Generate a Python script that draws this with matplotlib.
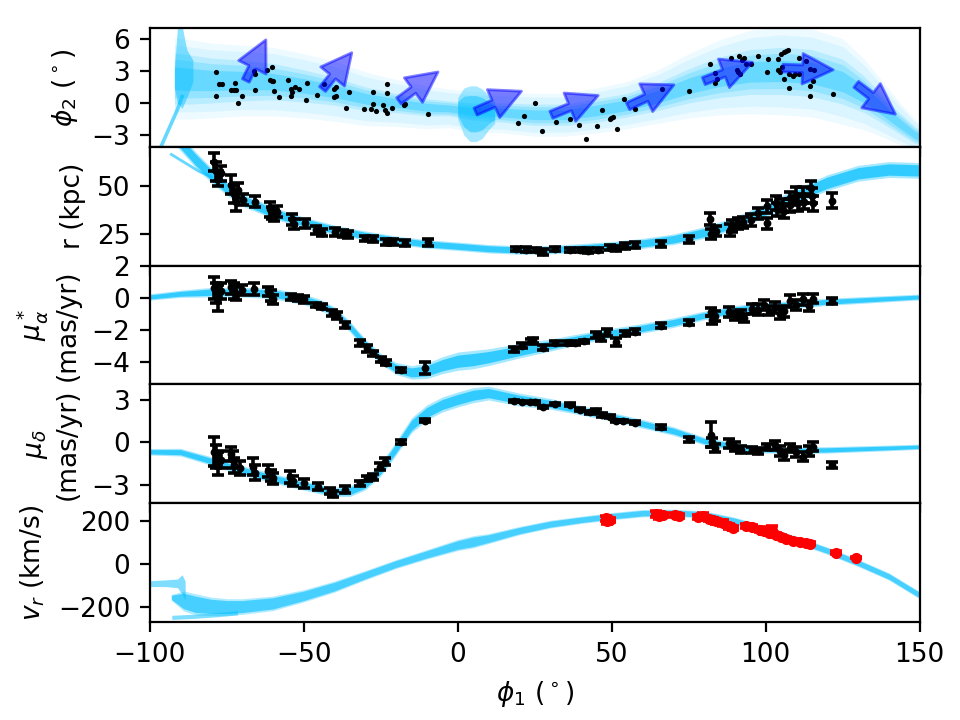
import numpy as np
import matplotlib
matplotlib.use('Agg')
import matplotlib.pyplot as plt

# ---- stream model tracks (phi1 nodes, centre, half-widths) ----
# phi2 panel, main track
trk1_phi1 = [-92, -87, -80, -70, -60, -50, -40, -30, -20, -10, -3, 5, 15, 25, 35, 45, 55,
             65, 75, 85, 95, 105, 115, 125, 132, 138, 143, 148, 150]
trk1_mid = [2.3, 2.2, 2.1, 2.1, 2.0, 1.6, 1.1, 0.4, 0.0, -0.4, -0.5, -0.8, -0.9, -1.1, -1.1,
            -0.7, -0.2, 0.6, 1.6, 2.4, 2.9, 3.0, 2.8, 2.0, 0.8, -0.6, -1.8, -2.9, -3.2]
trk1_core = [2.4, 2.3, 2.1, 1.9, 1.7, 1.5, 1.3, 1.1, 0.9, 0.8, 0.7, 0.8, 0.9, 1.0, 1.0,
             1.1, 1.1, 1.3, 1.6, 1.9, 2.1, 2.2, 2.2, 2.1, 1.7, 1.3, 1.0, 0.8, 0.7]
trk1_halo = [3.8, 3.7, 3.5, 3.3, 3.2, 3.0, 2.8, 2.5, 2.2, 2.0, 1.8, 1.9, 1.9, 2.0, 2.0,
             2.1, 2.2, 2.5, 3.0, 3.5, 3.9, 4.1, 4.1, 4.0, 3.3, 2.6, 2.0, 1.5, 1.3]
# progenitor blob
blob_phi1 = [0, 2, 4, 6, 8, 10, 12]
blob_mid = [-0.5, -0.8, -1.0, -1.0, -1.0, -0.9, -0.9]
blob_hw = [1.0, 2.2, 2.6, 2.6, 2.3, 1.6, 1.0]
# spike and thin tail at the leading end
spike_phi1 = [-92, -91, -89.5, -88, -86]
spike_lo = [1.5, 0.0, -0.5, 0.5, 2.0]
spike_hi = [3.0, 7.2, 7.2, 5.0, 4.0]
tail_phi1 = [-97, -95, -93, -91, -89.5]
tail_phi2 = [-4.5, -3.2, -1.9, -0.6, 0.6]

# distance track
trk2_phi1 = [-91, -85, -80, -75, -70, -60, -50, -40, -30, -20, -10, 0, 10, 20, 30, 40,
             50, 60, 70, 80, 90, 100, 110, 120, 130, 140, 150]
trk2_mid = [75, 64, 56, 49, 43, 36, 31, 27, 24, 21.5, 19.5, 18.3, 17, 16.3, 16.5, 17.3,
            18.3, 19.8, 22, 25.5, 30.5, 37.5, 45, 52, 57, 59, 58.5]
trk2_hw = [3, 3, 2.8, 2.6, 2.4, 2.2, 2, 1.8, 1.7, 1.6, 1.6, 1.6, 1.6, 1.6, 1.6, 1.7,
           1.8, 1.9, 2, 2.2, 2.4, 2.6, 2.8, 3, 3, 3, 3]
br2_phi1 = [-93, -88, -84, -80]
br2_r = [67, 62, 58, 55]

# proper motion tracks
pm_phi1 = [-100, -90, -80, -70, -60, -50, -45, -40, -35, -30, -25, -20, -15, -10, -5, 0,
           5, 10, 20, 30, 40, 50, 60, 70, 80, 90, 100, 110, 120, 130, 140, 150]
trk3_mid = [0.05, 0.25, 0.35, 0.35, 0.27, -0.1, -0.4, -0.9, -1.8, -2.9, -3.8, -4.4, -4.65,
            -4.55, -4.2, -3.95, -3.85, -3.7, -3.3, -2.95, -2.55, -2.2, -1.9, -1.55, -1.1,
            -0.75, -0.55, -0.4, -0.25, -0.15, -0.05, 0.05]
trk3_hw = [0.13, 0.15, 0.2, 0.2, 0.22, 0.22, 0.22, 0.22, 0.22, 0.22, 0.22, 0.25, 0.28, 0.32,
           0.35, 0.38, 0.38, 0.35, 0.3, 0.25, 0.22, 0.2, 0.2, 0.2, 0.18, 0.18, 0.18, 0.16,
           0.15, 0.14, 0.13, 0.12]
trk4_mid = [-0.65, -0.68, -1.3, -1.95, -2.5, -3.0, -3.25, -3.45, -3.4, -2.9, -1.9, -0.4,
            1.2, 2.1, 2.65, 3.0, 3.3, 3.45, 3.0, 2.7, 2.25, 1.8, 1.3, 0.8, 0.1, -0.3, -0.5,
            -0.55, -0.52, -0.45, -0.38, -0.3]
trk4_hw = [0.15, 0.18, 0.2, 0.22, 0.22, 0.22, 0.22, 0.22, 0.25, 0.28, 0.3, 0.32, 0.35, 0.35,
           0.35, 0.35, 0.35, 0.32, 0.3, 0.25, 0.22, 0.2, 0.2, 0.2, 0.18, 0.18, 0.16, 0.15,
           0.15, 0.14, 0.13, 0.12]

# radial velocity track
trk5_phi1 = [-93, -89, -85, -80, -75, -70, -60, -50, -40, -30, -20, -10, 0, 5, 10, 20, 30,
             40, 50, 60, 70, 80, 90, 100, 110, 120, 130, 140, 150]
trk5_mid = [-155, -172, -188, -197, -200, -198, -183, -148, -105, -52, 0, 45, 88, 103, 118,
            155, 185, 205, 222, 236, 238, 230, 200, 160, 112, 62, 5, -58, -145]
trk5_hw = [10, 36, 38, 33, 30, 28, 26, 22, 20, 17, 16, 17, 20, 22, 18, 15, 14, 13, 13, 13,
           13, 13, 13, 13, 13, 13, 13, 13, 13]
hook_phi1 = [-100, -95, -91, -89.5, -88.5]
hook_lo = [-105, -105, -110, -140, -170]
hook_hi = [-78, -74, -70, -50, -80]
br5_phi1 = [-92, -85, -78, -72]
br5_vr = [-250, -245, -238, -230]

# ---- observed members ----
dot_phi1 = [-78.6, -77.6, -76.5, -78.6, -72.4, -73.5, -72.6, -71.9, -71.4, -69.9, -66.1, -65.9,
            -65.8, -62.0, -60.2, -61.0, -60.4, -60.0, -59.7, -58.1, -55.2, -54.0, -53.7, -54.0,
            -52.7, -51.5, -49.1, -49.2, -45.8, -43.4, -40.3, -39.6, -40.2, -39.6, -36.4, -35.3,
            -30.3, -28.2, -27.5, -27.5, -26.6, -24.2, -23.7, -22.9, -23.0, -22.9, -21.5, -17.5,
            -17.0, -9.5, 19.6, 21.5, 25.0, 27.5, 31.8, 36.4, 39.3, 41.6, 45.2, 46.8, 49.4,
            49.9, 50.4, 51.7, 54.0, 57.4, 66.2, 75.0, 81.9, 83.4, 84.3, 83.6, 88.7, 91.3, 92.3,
            92.8, 90.7, 91.1, 91.6, 93.7, 95.2, 97.4, 100.3, 100.9, 104.0, 105.1, 105.8, 106.7,
            107.4, 104.0, 104.5, 105.3, 105.8, 107.6, 108.9, 109.6, 110.8, 110.7, 107.6, 113.0,
            114.3, 115.6, 115.4, 114.5, 114.5, 121.7]
dot_phi2 = [2.88, 1.74, 1.8, 0.69, 1.86, 1.25, 1.25, 1.18, 0.03, 0.62, 2.98, 2.73,
            1.25, 3.04, 3.41, 2.11, 2.08, 2.02, 1.12, 0.56, 2.11, 1.27, 1.02, 0.69,
            1.49, 1.27, 1.86, 0.25, 0.72, 1.8, 1.34, 1.49, 0.56, 0.62, -0.43, 1.02,
            -0.52, -0.52, 1.02, -0.06, -0.74, -0.21, -0.62, -0.93, 1.74, 0.97, -0.43, -0.21,
            -0.09, -1.02, -1.89, -1.17, -0.03, -2.6, -1.77, -1.49, -2.01, -3.38, -2.17, -0.68,
            -1.49, -1.36, -1.27, -2.45, 0.34, -0.56, 1.27, 1.09, 3.63, 2.79, 2.2, 1.9, 4.25,
            4.37, 4.04, 4.19, 3.04, 2.88, 2.73, 3.67, 3.67, 4.41, 2.92, 4.07, 4.13, 4.6, 4.72,
            4.84, 4.97, 3.04, 2.88, 3.39, 2.23, 2.67, 2.48, 2.73, 2.73, 4.22, 1.4, 3.97, 3.2,
            3.04, 2.02, 1.58, 0.62, 0.87]

# proper-motion direction arrows (tail -> head)
arr_tail = [(-68.8, 2.1), (-43.9, 1.3), (-19.1, 0.2), (5.8, -0.8), (30.4, -1.1),
            (55.3, -0.3), (79.9, 2.05), (105.6, 3.26), (129.4, 1.74)]
arr_head = [(-62.3, 5.9), (-34.4, 4.7), (-6.4, 2.9), (20.7, 1.1), (45.6, 0.7),
            (70.2, 1.7), (95.7, 3.8), (121.9, 3.1), (142.1, -1.05)]

r_phi1 = [-79.0, -78.5, -78.0, -77.0, -73.5, -72.5, -72.0, -71.5, -69.7, -65.9, -60.8, -60.2,
          -59.8, -58.8, -53.8, -53.2, -49.7, -45.9, -44.2, -39.9, -37.3, -35.7, -30.2, -27.5,
          -23.2, -21.0, -17.2, -9.6, 19.0, 22.2, 25.5, 27.7, 31.5, 36.4, 39.6, 42.3, 45.6,
          49.4, 51.5, 54.2, 57.5, 66.1, 75.1, 82.4, 82.0, 84.0, 88.3, 89.0, 91.1, 92.6, 95.3,
          97.5, 100.4, 100.4, 103.4, 103.8, 105.6, 106.0, 107.8, 108.0, 110.0, 110.5, 112.1,
          112.5, 114.8, 115.0, 115.5, 121.5]
r_val = [63, 58, 54, 57, 51, 46, 42, 48, 43, 42, 38, 36, 34.5, 36.7, 32.5, 30, 30.5, 27, 25.5,
         26, 25, 24.7, 22.5, 22.2, 20.7, 20.5, 19.9, 20.4, 16.9, 16.5, 16.2, 15.4, 16.9, 16.3,
         16.3, 16.0, 16.3, 17.6, 17.2, 18.5, 19, 19.4, 22, 24.7, 32.8, 26.4, 27, 29, 30.5, 31,
         32.3, 35.8, 39.4, 30.5, 41.2, 38, 40, 37, 43.8, 40, 45.6, 41, 45.5, 42, 49.1, 45, 41,
         42.4]
r_err = [5, 5, 4, 4, 5, 5, 5, 4, 3, 3, 4, 3, 3, 3, 3, 2.5, 2.5, 2, 2, 2, 2, 1.8, 1.5, 1.5,
         1.5, 1.5, 1.5, 2, 1.2, 1.2, 1.2, 1.5, 1.2, 1.2, 1.2, 1.2, 1.2, 1.5, 1.5, 1.5, 1.5,
         1.5, 2, 2.5, 3, 2.5, 3, 3, 3, 3, 3, 3, 3.5, 3, 3.5, 3.5, 3.5, 3.5, 3.5, 3.5, 4, 4, 4,
         4, 4, 4, 4, 4]

pma_phi1 = [-79, -78.5, -78.0, -77, -73.5, -72.5, -72, -70, -66, -61.5, -60.5, -60, -54, -52,
            -49.8, -46, -44, -40.9, -39.3, -36.6, -31.8, -29.6, -27.5, -24.8, -23.2, -18.3,
            -10.5, 18.4, 21.0, 23.8, 24.5, 27.7, 31.5, 35.5, 38, 41, 45, 46.5, 48.4, 51.5,
            54.2, 57.5, 66.1, 75.1, 82.4, 82.6, 83.5, 88, 90, 92, 93, 95.5, 97.5, 99.5, 101,
            103, 104.5, 106, 108, 110, 112, 114, 115.5, 121.5]
pma_val = [0.6, 0.3, 0.0, 0.45, 0.65, 0.4, 0.25, 0.5, 0.55, 0.4, 0.15, -0.1, 0.05, 0.0, -0.1,
           -0.45, -0.56, -0.95, -1.1, -1.7, -2.8, -3.15, -3.45, -3.85, -4.05, -4.5, -4.37,
           -3.2, -2.98, -2.7, -2.65, -3.1, -2.82, -2.82, -2.8, -2.72, -2.3, -2.5, -2.15,
           -2.75, -2.2, -2.1, -1.75, -1.55, -0.86, -1.38, -1.15, -0.9, -1.1, -1.0, -1.25,
           -0.7, -0.75, -0.45, -0.8, -0.6, -1.0, -0.85, -0.2, -0.45, -0.1, -0.5, -0.05, -0.2]
pma_err = [0.7, 0.6, 0.8, 0.5, 0.4, 0.5, 0.4, 0.3, 0.35, 0.3, 0.35, 0.3, 0.2, 0.2, 0.2, 0.15,
           0.15, 0.2, 0.2, 0.2, 0.2, 0.2, 0.15, 0.15, 0.15, 0.1, 0.35, 0.15, 0.15, 0.15, 0.15,
           0.15, 0.12, 0.12, 0.12, 0.12, 0.2, 0.2, 0.2, 0.25, 0.15, 0.15, 0.15, 0.15, 0.25,
           0.25, 0.3, 0.3, 0.3, 0.25, 0.25, 0.3, 0.35, 0.3, 0.3, 0.35, 0.3, 0.35, 0.35, 0.3,
           0.35, 0.3, 0.3, 0.2]

pmd_phi1 = [-79, -78.5, -78, -77, -73.5, -73, -72.5, -70.8, -66.5, -65.8, -61.5, -60.5, -60,
            -54.5, -53.5, -49.8, -45.5, -41.5, -40.5, -36.6, -31.8, -29.6, -27.5, -25.3, -23.7,
            -18.3, -10.5, 18.4, 21, 23.5, 25, 27.7, 31.5, 36.4, 39.6, 42.8, 45, 47, 49.4, 51.5,
            53.7, 57.5, 66.1, 75.1, 82.4, 82.6, 83.5, 88, 90, 92, 95.5, 97.5, 100.5, 103,
            104.5, 106, 108, 110, 112, 114, 115.5, 121.5]
pmd_val = [-0.65, -1.0, -1.5, -1.2, -0.8, -1.2, -1.6, -1.8, -1.7, -2.1, -2.0, -2.3, -2.5, -2.4,
           -2.7, -2.86, -3.1, -3.4, -3.6, -3.3, -2.86, -2.51, -2.4, -1.7, -1.35, 0.04, 1.51,
           2.9, 2.85, 2.8, 2.83, 2.48, 2.7, 2.65, 2.3, 2.1, 2.2, 1.9, 1.8, 1.5, 1.5, 1.37,
           1.09, 0.21, 0.55, 0.0, -0.4, -0.07, -0.3, -0.5, -0.55, -0.6, -0.3, -0.2, -0.6,
           -0.9, -0.4, -0.7, -1.0, -0.6, -0.3, -1.58]
pmd_err = [1.0, 0.8, 0.8, 0.6, 0.5, 0.6, 0.5, 0.5, 0.6, 0.5, 0.4, 0.4, 0.4, 0.4, 0.35, 0.3,
           0.25, 0.2, 0.2, 0.25, 0.2, 0.2, 0.2, 0.25, 0.25, 0.15, 0.1, 0.05, 0.05, 0.05, 0.05,
           0.05, 0.05, 0.08, 0.08, 0.08, 0.15, 0.15, 0.1, 0.1, 0.1, 0.1, 0.15, 0.15, 0.9, 0.3,
           0.3, 0.3, 0.3, 0.25, 0.2, 0.2, 0.2, 0.3, 0.35, 0.35, 0.3, 0.35, 0.3, 0.35, 0.3, 0.2]

vr_phi1 = [48, 48.5, 49.5, 64.5, 65.5, 66.5, 70.5, 72, 78, 79.5, 81.5, 83, 84, 86, 88, 89.5,
           93.7, 95.5, 98, 99.5, 101, 102, 103.5, 105, 106.6, 109, 111, 113, 114.5, 122.9, 129.4]
vr_val = [212, 200, 205, 232, 222, 228, 228, 222, 218, 225, 210, 205, 198, 190, 175, 168, 178,
          172, 160, 152, 145, 160, 135, 125, 118, 108, 100, 98, 95, 53, 29]
vr_err = [12, 15, 10, 12, 15, 10, 8, 8, 8, 10, 10, 8, 10, 12, 12, 10, 10, 10, 12, 15, 12, 15,
          10, 8, 8, 8, 8, 8, 8, 5, 3]

SKY = '#00BFFF'
plt.rcParams['font.size'] = 9.5

fig, axes = plt.subplots(5, 1, sharex=True, figsize=(4.8, 3.6), dpi=200)
fig.subplots_adjust(left=0.156, right=0.958, top=0.961, bottom=0.136, hspace=0)
ax1, ax2, ax3, ax4, ax5 = axes


def band(ax, x, mid, hw, alpha, scale=1.0):
    mid = np.asarray(mid, float)
    hw = np.asarray(hw, float) * scale
    ax.fill_between(x, mid - hw, mid + hw, color=SKY, alpha=alpha, lw=0, zorder=1)


eb = dict(fmt='o', ms=1.8, capsize=2.2, elinewidth=1.3, capthick=1.3, zorder=3)

# phi2: stacked translucent layers give a soft-edged cloud
band(ax1, trk1_phi1, trk1_mid, trk1_halo, 0.07)
band(ax1, trk1_phi1, trk1_mid, trk1_halo, 0.08, 0.82)
band(ax1, trk1_phi1, trk1_mid, trk1_core, 0.15)
band(ax1, trk1_phi1, trk1_mid, trk1_core, 0.2, 0.75)
band(ax1, trk1_phi1, trk1_mid, trk1_core, 0.3, 0.45)
band(ax1, blob_phi1, blob_mid, blob_hw, 0.35)
band(ax1, blob_phi1, blob_mid, blob_hw, 0.45, 0.65)
ax1.fill_between(spike_phi1, spike_lo, spike_hi, color=SKY, alpha=0.45, lw=0, zorder=1)
ax1.plot(tail_phi1, tail_phi2, color=SKY, lw=1.3, alpha=0.6, zorder=1)
ax1.scatter(dot_phi1, dot_phi2, s=3.5, c='k', zorder=3, lw=0)
for t, h in zip(arr_tail, arr_head):
    ax1.annotate('', xy=h, xytext=t,
                 arrowprops=dict(arrowstyle='simple,head_length=1.0,head_width=1.0,tail_width=0.25',
                                 color='blue', alpha=0.5, mutation_scale=11,
                                 shrinkA=0, shrinkB=0), zorder=4)
ax1.set_ylim(-4.1, 7)
ax1.set_yticks([-3, 0, 3, 6])
ax1.set_ylabel(r'$\phi_2$ ($^\circ$)')

# distance
band(ax2, trk2_phi1, trk2_mid, trk2_hw, 0.35, 1.4)
band(ax2, trk2_phi1, trk2_mid, trk2_hw, 0.7)
ax2.plot(br2_phi1, br2_r, color=SKY, lw=1.0, alpha=0.6, zorder=1)
ax2.errorbar(r_phi1, r_val, yerr=r_err, color='k', **eb)
ax2.set_ylim(8, 71)
ax2.set_yticks([25, 50])
ax2.set_ylabel('r (kpc)')

# mu_alpha
band(ax3, pm_phi1, trk3_mid, trk3_hw, 0.35, 1.5)
band(ax3, pm_phi1, trk3_mid, trk3_hw, 0.7)
ax3.errorbar(pma_phi1, pma_val, yerr=pma_err, color='k', **eb)
ax3.set_ylim(-5.4, 2.0)
ax3.set_yticks([-4, -2, 0, 2])
ax3.set_ylabel('$\\mu_\\alpha^*$\n(mas/yr)')

# mu_delta
band(ax4, pm_phi1, trk4_mid, trk4_hw, 0.35, 1.5)
band(ax4, pm_phi1, trk4_mid, trk4_hw, 0.7)
ax4.errorbar(pmd_phi1, pmd_val, yerr=pmd_err, color='k', **eb)
ax4.set_ylim(-4.25, 4.05)
ax4.set_yticks([-3, 0, 3])
ax4.set_ylabel('$\\mu_\\delta$\n(mas/yr)')

# v_r
band(ax5, trk5_phi1, trk5_mid, trk5_hw, 0.3, 1.3)
band(ax5, trk5_phi1, trk5_mid, trk5_hw, 0.6)
ax5.fill_between(hook_phi1, hook_lo, hook_hi, color=SKY, alpha=0.5, lw=0, zorder=1)
ax5.plot(br5_phi1, br5_vr, color=SKY, lw=1.5, alpha=0.5, zorder=1)
ax5.errorbar(vr_phi1, vr_val, yerr=vr_err, color='r', fmt='o', ms=3, capsize=2.2,
             elinewidth=1.3, capthick=1.3, zorder=3)
ax5.set_ylim(-270, 282)
ax5.set_yticks([-200, 0, 200])
ax5.set_ylabel(r'$v_r$ (km/s)')

ax5.set_xlim(-100, 150)
ax5.set_xlabel(r'$\phi_1$ ($^\circ$)')

fig.savefig('out.png', dpi=200)
